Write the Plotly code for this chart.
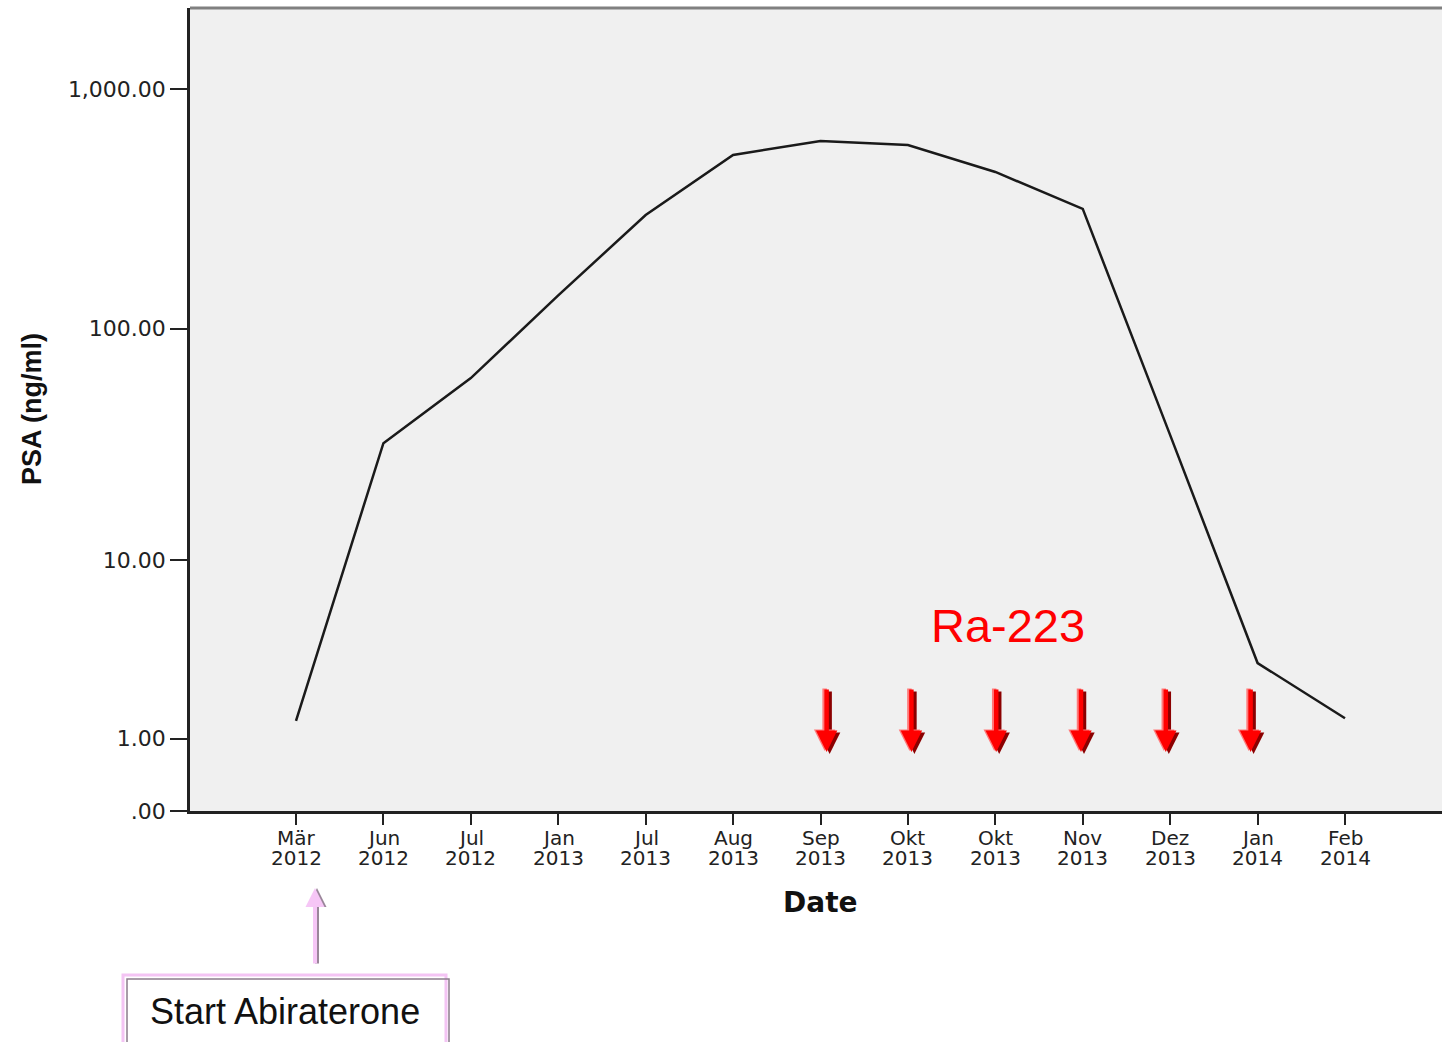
import math
import plotly.graph_objects as go

# ---------------- data ----------------
months = ["Mär", "Jun", "Jul", "Jan", "Jul", "Aug", "Sep", "Okt", "Okt", "Nov", "Dez", "Jan", "Feb"]
years = ["2012", "2012", "2012", "2013", "2013", "2013", "2013", "2013", "2013", "2013", "2013", "2014", "2014"]
psa = [1.37, 32.8, 62, 138, 299, 532, 608, 585, 452, 317, 35.5, 3.12, 1.43]

y_tick_values = [0, 1, 10, 100, 1000]
y_tick_labels = [".00", "1.00", "10.00", "100.00", "1,000.00"]

# Ra-223 dose positions (in category units) and arrow tip level (PSA units)
ra223_positions = [6.07, 7.04, 8.01, 8.98, 9.95, 10.92]
ra223_tip_psa = 0.76

# ---------------- helpers ----------------
def t(v):
    # SPSS-like "safe log" scale: log10(1 + v)
    return math.log10(1.0 + v)

W, H = 1442, 1042
L, R, T, B = 190, 0, 8, 231
PW, PH = W - L - R, H - T - B
def px_x(p):
    return (p - L) / PW
def px_y(p):
    return (H - B - p) / PH

x_idx = list(range(len(months)))
step = 87.42
x_range = [-(296 - L) / step, (len(months) - 1) + (W - R - 1345) / step]

fig = go.Figure()
fig.add_trace(go.Scatter(
    x=x_idx, y=[t(v) for v in psa], mode="lines",
    line=dict(color="#1a1a1a", width=2.5), showlegend=False, hoverinfo="skip"))

annotations = []
# x tick labels (two tight lines)
for i, (m, yr) in enumerate(zip(months, years)):
    annotations.append(dict(x=i, xref="x", y=px_y(838.5), yref="paper", text=m, showarrow=False,
                            font=dict(family="DejaVu Sans", size=20, color="#222"),
                            xanchor="center", yanchor="middle"))
    annotations.append(dict(x=i, xref="x", y=px_y(857.5), yref="paper", text=yr, showarrow=False,
                            font=dict(family="DejaVu Sans", size=20, color="#222"),
                            xanchor="center", yanchor="middle"))

# axis titles
annotations.append(dict(x=px_x(820), y=px_y(902), xref="paper", yref="paper", text="<b>Date</b>",
                        showarrow=False, font=dict(family="DejaVu Sans", size=28, color="#111"),
                        xanchor="center", yanchor="middle"))
annotations.append(dict(x=px_x(32), y=px_y(409), xref="paper", yref="paper", text="<b>PSA (ng/ml)</b>",
                        textangle=-90, showarrow=False,
                        font=dict(family="Liberation Sans", size=27, color="#111"),
                        xanchor="center", yanchor="middle"))

# Ra-223 label
annotations.append(dict(x=px_x(1008), y=px_y(625), xref="paper", yref="paper", text="Ra-223",
                        showarrow=False, font=dict(family="Liberation Sans", size=47, color="#ff0000"),
                        xanchor="center", yanchor="middle"))

# Ra-223 arrows (shadow, highlight, main)
for xp in ra223_positions:
    for color, xs, ys in [("#8b0000", 3, -2), ("#ff7a7a", -2, 1), ("#ff0000", 0, 0)]:
        annotations.append(dict(x=xp, xref="x", y=t(ra223_tip_psa), yref="y", text="",
                                showarrow=True, ax=0, ay=-64,
                                arrowhead=2, arrowsize=0.95, arrowwidth=4.5, arrowcolor=color,
                                xshift=xs, yshift=ys, standoff=0))

# Start Abiraterone arrow
for color, xs in [("#9a869a", 2), ("#f6c6f6", 0)]:
    annotations.append(dict(x=px_x(315), y=px_y(888), xref="paper", yref="paper", text="",
                            showarrow=True, ax=0, ay=77, arrowhead=2, arrowsize=0.95,
                            arrowwidth=4, arrowcolor=color, xshift=xs, standoff=0))

annotations.append(dict(x=px_x(285), y=px_y(1011), xref="paper", yref="paper", text="Start Abiraterone",
                        showarrow=False, font=dict(family="Liberation Sans", size=36, color="#111"),
                        xanchor="center", yanchor="middle"))

shapes = [
    # top frame line
    dict(type="line", xref="paper", yref="paper", x0=0, x1=1, y0=1, y1=1,
         line=dict(color="#808080", width=3)),
    # Start Abiraterone box (pink with grey inner edge)
    dict(type="rect", xref="paper", yref="paper", x0=px_x(123), x1=px_x(446), y0=px_y(1060), y1=px_y(975),
         line=dict(color="#f4c4f4", width=3), fillcolor="rgba(0,0,0,0)"),
    dict(type="rect", xref="paper", yref="paper", x0=px_x(127), x1=px_x(449), y0=px_y(1060), y1=px_y(979),
         line=dict(color="#8c7c8c", width=1.5), fillcolor="rgba(0,0,0,0)"),
]

fig.update_layout(
    width=W, height=H,
    margin=dict(l=L, r=R, t=T, b=B, pad=0),
    paper_bgcolor="white", plot_bgcolor="#f0f0f0",
    showlegend=False,
    annotations=annotations, shapes=shapes,
    xaxis=dict(range=x_range, tickvals=x_idx, showticklabels=False, ticks="outside",
               ticklen=11, tickwidth=2, tickcolor="#222", showline=True, linecolor="#222",
               linewidth=3, showgrid=False, zeroline=False, fixedrange=True),
    yaxis=dict(range=[0, (H - B - T) / 240.6], tickvals=[t(v) for v in y_tick_values],
               ticktext=y_tick_labels, ticks="outside", ticklen=17, tickwidth=2, tickcolor="#222",
               tickfont=dict(family="DejaVu Sans", size=22, color="#222"), ticklabelstandoff=0,
               showline=True, linecolor="#222", linewidth=2.5, showgrid=False, zeroline=False,
               fixedrange=True),
)

fig.write_html("out.html", config={"displayModeBar": False},
               post_script="document.body.style.margin='0px';")
